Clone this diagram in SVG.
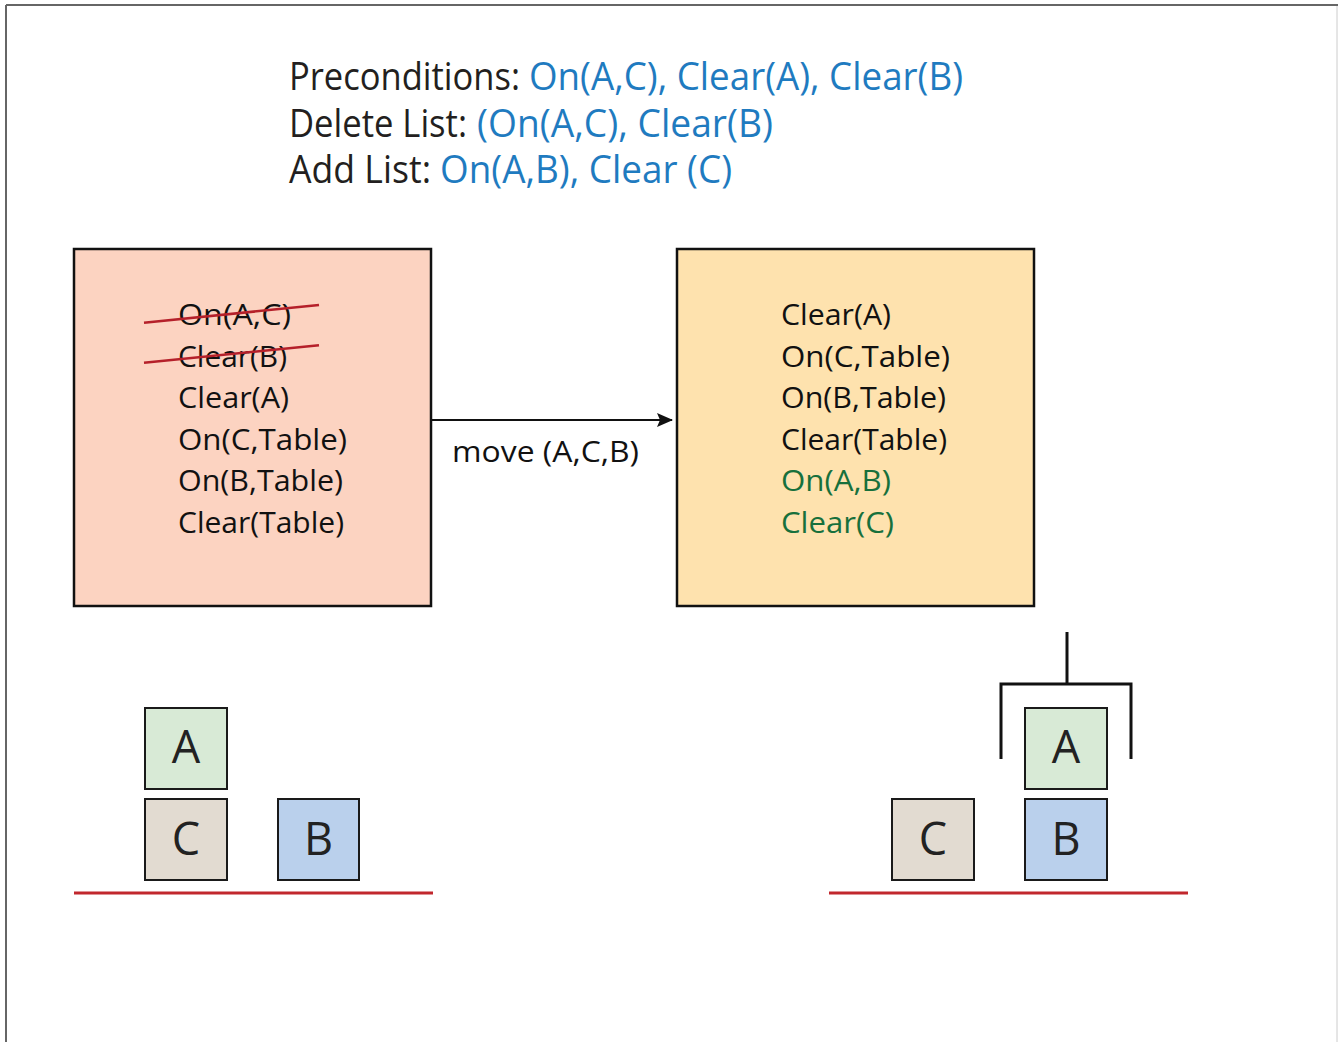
<svg xmlns="http://www.w3.org/2000/svg" width="1338" height="1042" viewBox="0 0 1338 1042">
<style>
text{font-family:"Open Sans","Noto Sans","Liberation Sans",sans-serif;}
.hd{font-size:38px;fill:#231f20;}
.bl{fill:#1f7bc0;}
.st{font-size:30px;fill:#111;}
.gr{fill:#17703c;}
.box{stroke:#111;stroke-width:2.5;}
.blk{stroke:#1a1a1a;stroke-width:2;}
.lt{font-size:45px;fill:#222;text-anchor:middle;}
.strike{stroke:#b5202a;stroke-width:2.5;}
.ground{stroke:#c1272d;stroke-width:3;}
.grip{stroke:#111;stroke-width:3;fill:none;}
</style>
<defs>
<marker id="arr" markerWidth="16" markerHeight="14" refX="15" refY="7" orient="auto" markerUnits="userSpaceOnUse">
<path d="M0,0 L16,7 L0,14 L3,7 Z" fill="#111"/>
</marker>
</defs>
<rect width="1338" height="1042" fill="#fff"/>
<g id="frame">
<line x1="6" y1="5" x2="1338" y2="5" stroke="#666" stroke-width="2"/>
<line x1="6" y1="5" x2="6" y2="1042" stroke="#666" stroke-width="2"/>
<line x1="1337" y1="6" x2="1337" y2="1042" stroke="#ccc" stroke-width="1"/>
</g>
<g id="header">
<text class="hd" x="289" y="90" textLength="231" lengthAdjust="spacingAndGlyphs">Preconditions:</text>
<text class="hd bl" x="529" y="90" textLength="434" lengthAdjust="spacingAndGlyphs">On(A,C), Clear(A), Clear(B)</text>
<text class="hd" x="289" y="136.5" textLength="178" lengthAdjust="spacingAndGlyphs">Delete List:</text>
<text class="hd bl" x="477" y="136.5" textLength="296" lengthAdjust="spacingAndGlyphs">(On(A,C), Clear(B)</text>
<text class="hd" x="289" y="183" textLength="142" lengthAdjust="spacingAndGlyphs">Add List:</text>
<text class="hd bl" x="440" y="183" textLength="292" lengthAdjust="spacingAndGlyphs">On(A,B), Clear (C)</text>
</g>
<g id="state1">
<rect class="box" x="74" y="249" width="357" height="357" fill="#fcd3c1"/>
<text class="st" x="178" y="325" textLength="113" lengthAdjust="spacingAndGlyphs">On(A,C)</text>
<text class="st" x="178" y="366.5" textLength="109" lengthAdjust="spacingAndGlyphs">Clear(B)</text>
<text class="st" x="178" y="408" textLength="111" lengthAdjust="spacingAndGlyphs">Clear(A)</text>
<text class="st" x="178" y="449.5" textLength="169" lengthAdjust="spacingAndGlyphs">On(C,Table)</text>
<text class="st" x="178" y="491" textLength="165" lengthAdjust="spacingAndGlyphs">On(B,Table)</text>
<text class="st" x="178" y="532.5" textLength="166" lengthAdjust="spacingAndGlyphs">Clear(Table)</text>
<line class="strike" x1="144" y1="322.7" x2="319" y2="305"/>
<line class="strike" x1="144" y1="362.7" x2="319" y2="345.3"/>
</g>
<g id="state2">
<rect class="box" x="677" y="249" width="357" height="357" fill="#fee2ae"/>
<text class="st" x="781" y="325" textLength="110" lengthAdjust="spacingAndGlyphs">Clear(A)</text>
<text class="st" x="781" y="366.5" textLength="169" lengthAdjust="spacingAndGlyphs">On(C,Table)</text>
<text class="st" x="781" y="408" textLength="165" lengthAdjust="spacingAndGlyphs">On(B,Table)</text>
<text class="st" x="781" y="449.5" textLength="166" lengthAdjust="spacingAndGlyphs">Clear(Table)</text>
<text class="st gr" x="781" y="491" textLength="110" lengthAdjust="spacingAndGlyphs">On(A,B)</text>
<text class="st gr" x="781" y="532.5" textLength="113" lengthAdjust="spacingAndGlyphs">Clear(C)</text>
</g>
<g id="connectors">
<line x1="432" y1="420" x2="672" y2="420" stroke="#111" stroke-width="2" marker-end="url(#arr)"/>
<text class="st" x="452" y="462" font-size="28" textLength="187" lengthAdjust="spacingAndGlyphs">move (A,C,B)</text>
</g>
<g id="blocks-left">
<rect class="blk" x="145" y="708" width="82" height="81" fill="#d8ead6"/>
<text class="lt" x="186" y="763">A</text>
<rect class="blk" x="145" y="799" width="82" height="81" fill="#e2dbd1"/>
<text class="lt" x="186" y="855">C</text>
<rect class="blk" x="278" y="799" width="81" height="81" fill="#bad0ec"/>
<text class="lt" x="318.5" y="855">B</text>
<line class="ground" x1="74" y1="893" x2="433" y2="893"/>
</g>
<g id="blocks-right">
<rect class="blk" x="892" y="799" width="82" height="81" fill="#e2dbd1"/>
<text class="lt" x="933" y="855">C</text>
<rect class="blk" x="1025" y="799" width="82" height="81" fill="#bad0ec"/>
<text class="lt" x="1066" y="855">B</text>
<rect class="blk" x="1025" y="708" width="82" height="81" fill="#d8ead6"/>
<text class="lt" x="1066" y="763">A</text>
<line class="ground" x1="829" y1="893" x2="1188" y2="893"/>
</g>
<g id="gripper">
<line class="grip" x1="1067" y1="632" x2="1067" y2="684"/>
<polyline class="grip" points="1001,759 1001,684 1131,684 1131,759"/>
</g>
</svg>
